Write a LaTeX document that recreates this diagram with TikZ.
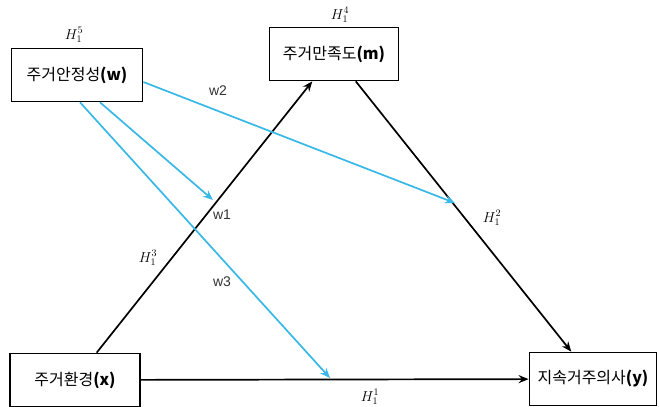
\documentclass[tikz,border=0pt]{standalone}
\usepackage{fontspec}
\setmainfont{Liberation Sans}
\newfontfamily\krfont{Noto Sans CJK KR}
\usetikzlibrary{arrows.meta}
\definecolor{pathblue}{RGB}{56,184,230}
\tikzset{
  varbox/.style={draw,line width=1.7pt,minimum width=#1,minimum height=53pt,inner sep=0pt,font=\krfont\fontsize{16}{18}\selectfont},
  blkpath/.style={line width=1.7pt,-{Stealth[length=10pt,width=8pt]}},
  bluepath/.style={pathblue,line width=1.7pt,-{Stealth[length=10pt,width=8pt]}},
  hlab/.style={font=\fontsize{14}{16}\selectfont},
  wlab/.style={font=\fontsize{14}{16}\selectfont,text=black!80}
}
\begin{document}
\begin{tikzpicture}[x=1pt,y=-1pt]
\useasboundingbox (0,0) rectangle (659,407);
% variables
\node[varbox=131pt] (w) at (77,75) {주거안정성\textbf{(w)}};
\node[varbox=129pt] (m) at (334,54) {주거만족도\textbf{(m)}};
\node[varbox=130pt] (x) at (75,380) {주거환경\textbf{(x)}};
\node[varbox=127pt] (y) at (593,379) {지속거주의사\textbf{(y)}};
% ends of the moderation arrows
\coordinate (c1) at (213,200);
\coordinate (c2) at (455,203);
\coordinate (c3) at (330,378);
% paths
\draw[blkpath] (x) -- (m);
\draw[blkpath] (m) -- (y);
\draw[blkpath] (x) -- (y);
\draw[bluepath] ([xshift=23pt]w.south) -- (c1);
\draw[bluepath] ([yshift=-7pt]w.east) -- (c2);
\draw[bluepath] ([xshift=3pt]w.south) -- (c3);
% labels
\node[hlab] (h5) at (74,35) {$H^{5}_{1}$};
\node[hlab] (h4) at (340,15) {$H^{4}_{1}$};
\node[hlab] (h3) at (148,258) {$H^{3}_{1}$};
\node[hlab] (h2) at (492,218) {$H^{2}_{1}$};
\node[hlab] (h1) at (370,397) {$H^{1}_{1}$};
\node[wlab] (w1) at (222,215) {w1};
\node[wlab] (w2) at (218,91) {w2};
\node[wlab] (w3) at (222,282) {w3};
\end{tikzpicture}
\end{document}
